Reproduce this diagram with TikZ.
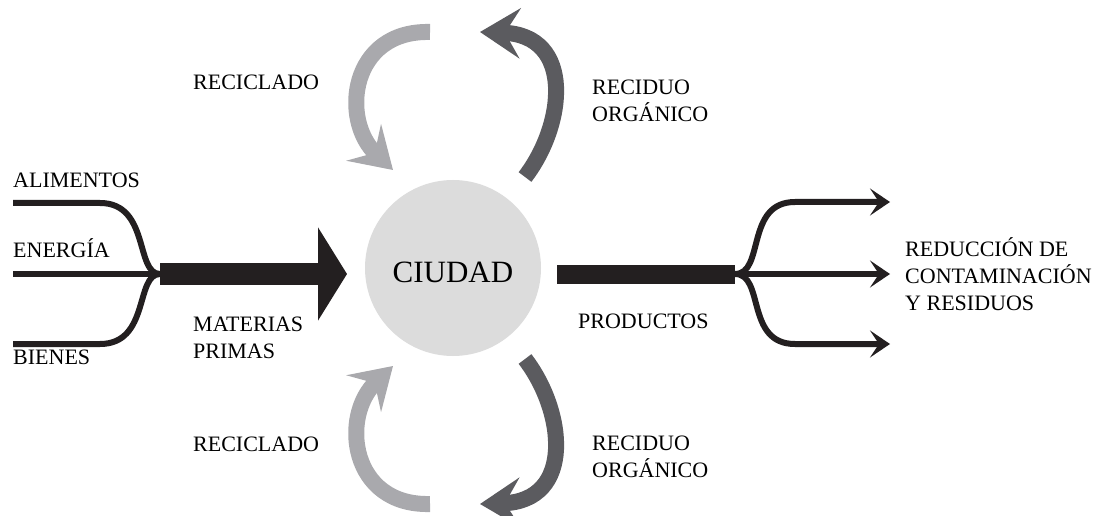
\documentclass[tikz,border=0pt]{standalone}
\usepackage{fontspec}
\setmainfont{Liberation Serif}
\usetikzlibrary{arrows.meta,positioning}
\def \px {1pt}
\definecolor{ink}{HTML}{231F20}
\definecolor{recy}{HTML}{A9A9AD}
\definecolor{waste}{HTML}{5B5B5F}
\definecolor{city}{HTML}{DCDCDC}

\begin{document}
\begin{tikzpicture}[x=\px,y=-\px,
    lbl/.style={font=\fontsize{22}{27}\selectfont,inner sep=0pt,align=left,anchor=base west},
    feed/.style={draw=ink,line width=6pt},
    outarr/.style={feed,-{Stealth[length=20pt,width=27pt,inset=9pt]}},
    loopup/.style={line width=16pt,-{Stealth[length=40pt,width=50pt,inset=15pt,quick]}}]
    \useasboundingbox (0,0) rectangle (1096,516);
    \node[circle,fill=city,minimum size=176pt,inner sep=0pt,text height=30pt,
      font=\fontsize{31}{31}\selectfont] (ciudad) at (453,268) {CIUDAD};
    \node[lbl] (alim) at (13,188) {ALIMENTOS};
    \node[lbl] (ener) at (13,258) {ENERGÍA};
    \node[lbl] (bien) at (13,364) {BIENES};
    \node[lbl] (mat) at (193,358) {MATERIAS\\PRIMAS};
    \node[lbl] (recA) at (193,90) {RECICLADO};
    \node[lbl] (resA) at (592,122) {RECIDUO\\ORGÁNICO};
    \node[lbl] (recB) at (193,451) {RECICLADO};
    \node[lbl] (resB) at (592,477) {RECIDUO\\ORGÁNICO};
    \node[lbl] (prod) at (578,328) {PRODUCTOS};
    \node[lbl] (red) at (905,310) {REDUCCIÓN DE\\CONTAMINACIÓN\\Y RESIDUOS};
    \coordinate (a0) at (13,203);
    \coordinate (e0) at (13,274);
    \coordinate (b0) at (13,344);
    \coordinate (merge) at (160,274);
    \coordinate (inTip) at (347,274);
    \coordinate (outEnd) at (557,274);
    \coordinate (split) at (735,274);
    \coordinate (o1) at (890,202);
    \coordinate (o2) at (890,274);
    \coordinate (o3) at (890,344);
    \coordinate (rA0) at (430,32);
    \coordinate (rA1) at (393,170);
    \coordinate (wA0) at (525,177);
    \coordinate (wA1) at (480,32);
    \coordinate (rB0) at (430,504);
    \coordinate (rB1) at (393,366);
    \coordinate (wB0) at (525,359);
    \coordinate (wB1) at (480,504);
    \draw[feed] (a0) -- (100,203) .. controls (150,203) and (135,274) .. (merge);
    \draw[feed] (e0) -- (merge);
    \draw[feed] (b0) -- (100,344) .. controls (150,344) and (135,274) .. (merge);
    \draw[ink,line width=22pt,-{Triangle[length=29pt,width=92pt]}] (merge) -- (inTip);
    \draw[ink,line width=19pt] (outEnd) -- (split);
    \draw[outarr] (split) .. controls (765,274) and (745,202) .. (795,202) -- (o1);
    \draw[outarr] (split) -- (o2);
    \draw[outarr] (split) .. controls (765,274) and (745,344) .. (795,344) -- (o3);
    \draw[recy,loopup] (rA0) .. controls (350,30) and (340,120) .. (rA1);
    \draw[waste,loopup] (wA0) .. controls (565,125) and (575,35) .. (wA1);
    \draw[recy,loopup] (rB0) .. controls (350,506) and (340,416) .. (rB1);
    \draw[waste,loopup] (wB0) .. controls (565,411) and (575,501) .. (wB1);
\end{tikzpicture}
\end{document}
